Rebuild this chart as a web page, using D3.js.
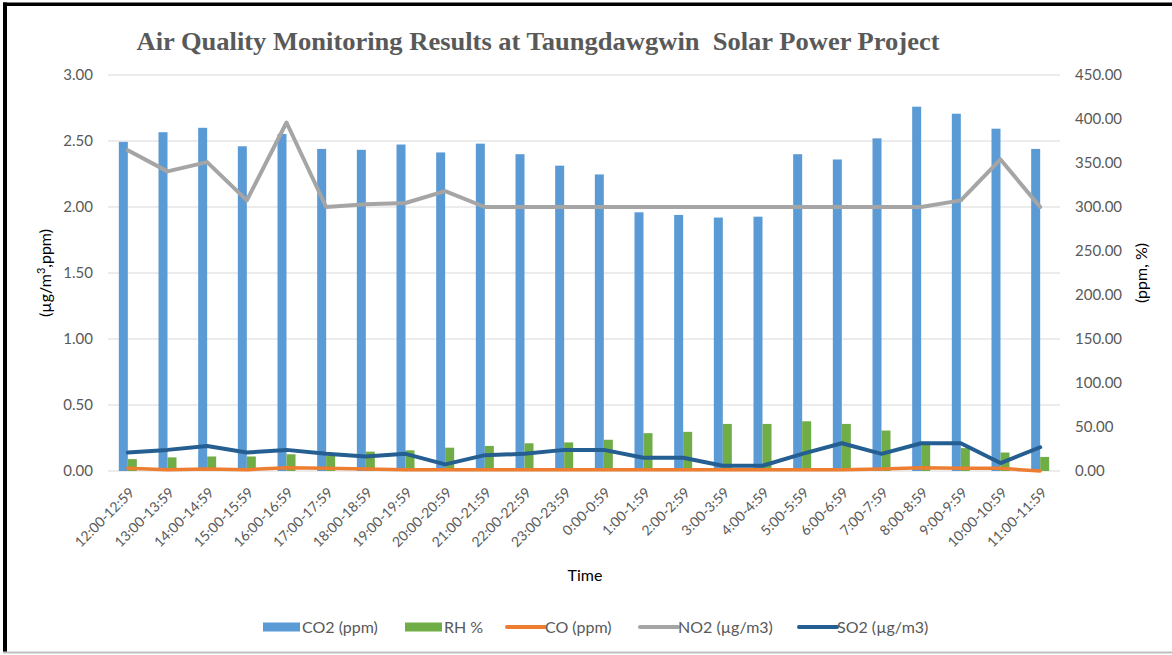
<!DOCTYPE html>
<html>
<head>
<meta charset="utf-8">
<script src="https://cdn.jsdelivr.net/npm/d3@7"></script>
<style>
  html, body { margin: 0; padding: 0; background: #fff; }
  svg { display: block; }
</style>
</head>
<body>
<svg id="chart" width="1172" height="655"></svg>
<script>
const categories = ["12:00-12:59","13:00-13:59","14:00-14:59","15:00-15:59","16:00-16:59","17:00-17:59",
  "18:00-18:59","19:00-19:59","20:00-20:59","21:00-21:59","22:00-22:59","23:00-23:59",
  "0:00-0:59","1:00-1:59","2:00-2:59","3:00-3:59","4:00-4:59","5:00-5:59","6:00-6:59",
  "7:00-7:59","8:00-8:59","9:00-9:59","10:00-10:59","11:00-11:59"];

// right axis (ppm, %)
const co2 = [374, 385, 390, 369, 383, 366, 365, 371, 362, 372, 360, 347, 337, 294, 291, 288, 289, 360, 354, 378, 414, 406, 389, 366];
const rh  = [13.5, 15.5, 16.5, 16.5, 19, 17, 22, 23.5, 26.5, 28.5, 31.5, 32.5, 35.5, 43, 44.5, 53.5, 53.5, 56.5, 53.5, 46, 30, 26, 21, 16];
// left axis (µg/m3, ppm)
const co  = [0.02, 0.01, 0.015, 0.01, 0.025, 0.02, 0.015, 0.01, 0.01, 0.01, 0.01, 0.01, 0.01, 0.01, 0.01, 0.01, 0.01, 0.01, 0.01, 0.015, 0.025, 0.02, 0.02, 0.0];
const no2 = [2.43, 2.27, 2.34, 2.05, 2.64, 2.00, 2.02, 2.03, 2.12, 2.00, 2.00, 2.00, 2.00, 2.00, 2.00, 2.00, 2.00, 2.00, 2.00, 2.00, 2.00, 2.05, 2.36, 2.00];
const so2 = [0.14, 0.16, 0.19, 0.14, 0.16, 0.13, 0.11, 0.13, 0.05, 0.12, 0.13, 0.16, 0.16, 0.10, 0.10, 0.04, 0.04, 0.13, 0.21, 0.13, 0.21, 0.21, 0.06, 0.18];

const leftTicks = [0, 0.5, 1, 1.5, 2, 2.5, 3];
const rightTicks = [0, 50, 100, 150, 200, 250, 300, 350, 400, 450];

const title = "Air Quality Monitoring Results at Taungdawgwin  Solar Power Project";

const colors = { co2: "#5B9BD5", rh: "#70AD47", co: "#ED7D31", no2: "#A5A5A5", so2: "#255E91" };

const svg = d3.select("#chart");
const L = 108, R = 1060, T = 75, B = 471;

// frame
svg.append("rect").attr("x", 3).attr("y", 2.5).attr("width", 1169).attr("height", 3.5).attr("fill", "#000");
svg.append("rect").attr("x", 3).attr("y", 2.5).attr("width", 4).attr("height", 650).attr("fill", "#000");
svg.append("rect").attr("x", 3).attr("y", 651.5).attr("width", 1169).attr("height", 2).attr("fill", "#bfbfbf");

const x = d3.scaleBand().domain(categories).range([L, R]).paddingInner(0.546).paddingOuter(0.273);
const xSub = d3.scaleBand().domain(["co2", "rh"]).range([0, x.bandwidth()]);
const yL = d3.scaleLinear().domain([0, 3]).range([B, T]);
const yR = d3.scaleLinear().domain([0, 450]).range([B, T]);
const cx = c => x(c) + x.bandwidth() / 2;

// gridlines
svg.append("g").selectAll("line").data(leftTicks).join("line")
  .attr("x1", L).attr("x2", R).attr("y1", d => yL(d)).attr("y2", d => yL(d))
  .attr("stroke", "#d9d9d9").attr("stroke-width", 1);

const tickFont = "Lato, 'Open Sans', sans-serif";

// left axis
const axL = d3.axisLeft(yL).tickValues(leftTicks).tickFormat(d3.format(".2f")).tickSize(0).tickPadding(15);
const gL = svg.append("g").attr("transform", `translate(${L},0)`).call(axL);
gL.select(".domain").remove();
gL.selectAll("text").attr("fill", "#595959").style("font-family", tickFont).style("font-size", "15px");

// right axis
const axR = d3.axisRight(yR).tickValues(rightTicks).tickFormat(d3.format(".2f")).tickSize(0).tickPadding(15);
const gR = svg.append("g").attr("transform", `translate(${R},0)`).call(axR);
gR.select(".domain").remove();
gR.selectAll("text").attr("fill", "#595959").style("font-family", tickFont).style("font-size", "15px");

// bars
svg.append("g").selectAll("rect").data(categories).join("rect")
  .attr("x", c => x(c) + xSub("co2")).attr("width", xSub.bandwidth())
  .attr("y", (c, i) => yR(co2[i])).attr("height", (c, i) => B - yR(co2[i]))
  .attr("fill", colors.co2);
svg.append("g").selectAll("rect").data(categories).join("rect")
  .attr("x", c => x(c) + xSub("rh")).attr("width", xSub.bandwidth())
  .attr("y", (c, i) => yR(rh[i])).attr("height", (c, i) => B - yR(rh[i]))
  .attr("fill", colors.rh);

// lines
function drawLine(vals, color, w) {
  const line = d3.line().x((d, i) => cx(categories[i])).y(d => yL(d));
  svg.append("path").datum(vals).attr("d", line).attr("fill", "none")
    .attr("stroke", color).attr("stroke-width", w).attr("stroke-linejoin", "round").attr("stroke-linecap", "round");
}
drawLine(co, colors.co, 3.5);
drawLine(no2, colors.no2, 4);
drawLine(so2, colors.so2, 4);

// x labels
svg.append("g").selectAll("text").data(categories).join("text")
  .attr("transform", c => `translate(${cx(c) + 4},${B + 19}) rotate(-45)`)
  .attr("text-anchor", "end").attr("dy", "0.35em")
  .attr("fill", "#595959").style("font-family", tickFont).style("font-size", "14px")
  .text(c => c);

// axis titles
svg.append("text").attr("x", 585).attr("y", 581).attr("text-anchor", "middle")
  .style("font-family", tickFont).style("font-size", "16px").attr("fill", "#000").text("Time");

const lt = svg.append("text").attr("transform", "translate(51,273) rotate(-90)").attr("text-anchor", "middle")
  .style("font-family", tickFont).style("font-size", "16px").attr("fill", "#000");
lt.append("tspan").text("(µg/m");
lt.append("tspan").attr("dy", "-6").style("font-size", "11px").text("3");
lt.append("tspan").attr("dy", "6").text(",ppm)");

svg.append("text").attr("transform", "translate(1147,273) rotate(-90)").attr("text-anchor", "middle")
  .style("font-family", tickFont).style("font-size", "16px").attr("fill", "#000").text("(ppm, %)");

// title
svg.append("text").attr("x", 538).attr("y", 50).attr("text-anchor", "middle")
  .style("font-family", "'Liberation Serif', 'Times New Roman', serif").style("font-weight", "bold")
  .style("font-size", "26px").attr("fill", "#595959").style("white-space", "pre")
  .attr("textLength", 803).attr("lengthAdjust", "spacingAndGlyphs")
  .attr("xml:space", "preserve").text(title);

// legend
const legend = [
  { key: "co2", label: "CO2 (ppm)", type: "rect", x: 263 },
  { key: "rh", label: "RH %", type: "rect", x: 405 },
  { key: "co", label: "CO (ppm)", type: "line", x: 506 },
  { key: "no2", label: "NO2 (µg/m3)", type: "line", x: 639 },
  { key: "so2", label: "SO2 (µg/m3)", type: "line", x: 798 }
];
const lg = svg.append("g");
legend.forEach(d => {
  if (d.type === "rect") {
    lg.append("rect").attr("x", d.x).attr("y", 622.5).attr("width", 37).attr("height", 9).attr("fill", colors[d.key]);
  } else {
    lg.append("line").attr("x1", d.x + 1).attr("x2", d.x + 39).attr("y1", 627).attr("y2", 627)
      .attr("stroke", colors[d.key]).attr("stroke-width", 4).attr("stroke-linecap", "round");
  }
  lg.append("text").attr("x", d.x + 39).attr("y", 627).attr("dy", "0.35em")
    .style("font-family", tickFont).style("font-size", "16px").attr("fill", "#595959").text(d.label);
});
</script>
</body>
</html>
